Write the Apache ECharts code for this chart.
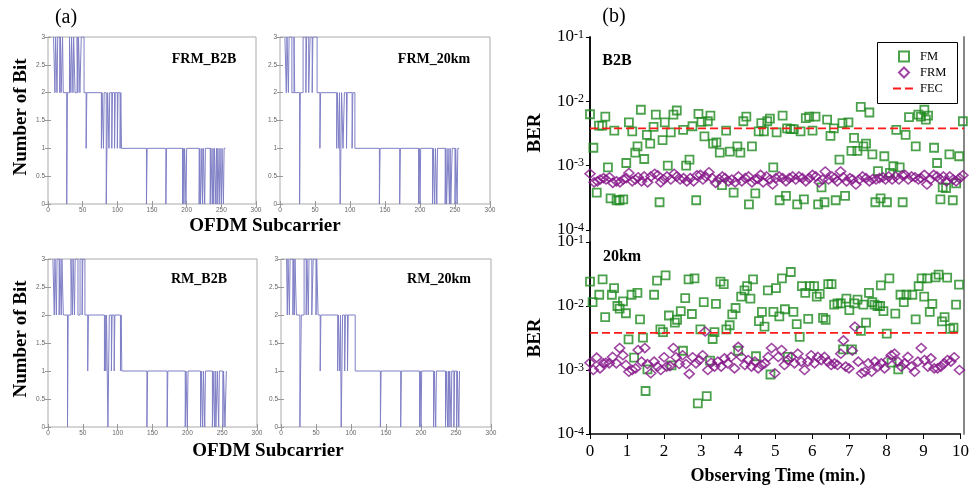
<!DOCTYPE html>
<html>
<head>
<meta charset="utf-8">
<script src="https://cdn.jsdelivr.net/npm/echarts@6/dist/echarts.min.js"></script>
<style>
  html, body { margin: 0; padding: 0; background: #fff; }
  #main { width: 972px; height: 488px; }
</style>
</head>
<body>
<div id="main"></div>
<script>
// (a) bit loading: [subcarrier, bits] at every change of the allocation
const frmB2B = [[8,3],[10,2],[11,3],[13,2],[14,3],[17,2],[18,3],[19,2],[21,3],[22,2],[27,0],[28,2],[31,3],[33,2],[34,3],[36,2],[37,3],[39,2],[42,3],[43,2],[44,3],[46,2],[48,3],[52,2],[55,1],[56,2],[77,1],[78,2],[80,1],[81,2],[84,0],[85,1],[86,2],[88,1],[89,2],[92,1],[93,2],[96,1],[97,2],[100,1],[101,2],[104,1],[105,2],[106,1],[142,0],[143,1],[170,0],[171,1],[194,0],[195,1],[196,0],[197,1],[199,0],[200,1],[218,0],[219,1],[220,0],[222,1],[223,0],[224,1],[226,0],[227,1],[234,0],[235,1],[237,0],[238,1],[239,0],[240,1],[242,0],[243,1],[244,0],[245,1],[247,0],[248,1],[250,0],[251,1],[253,0],[254,1],[256,1]];
const frm20km = [[7,3],[9,2],[10,3],[12,2],[13,3],[17,2],[20,3],[21,2],[28,0],[29,2],[33,3],[37,2],[38,3],[41,2],[43,3],[46,2],[47,3],[53,2],[57,1],[58,2],[81,1],[82,2],[84,1],[85,2],[86,0],[87,1],[88,2],[90,1],[92,2],[95,1],[96,2],[103,1],[104,2],[107,1],[142,0],[143,1],[171,0],[172,1],[198,0],[199,1],[200,0],[201,1],[218,0],[219,1],[221,0],[222,1],[224,0],[225,1],[236,0],[237,1],[238,0],[240,1],[242,0],[243,1],[244,0],[246,1],[250,0],[251,1],[253,0],[254,1],[256,1]];
const rmB2B = [[7,3],[9,2],[10,3],[12,2],[13,3],[16,2],[17,3],[19,2],[20,3],[22,2],[28,0],[29,2],[33,3],[35,2],[36,3],[38,2],[39,3],[43,2],[46,3],[49,2],[50,3],[53,2],[57,1],[58,2],[81,1],[82,2],[83,1],[84,2],[86,0],[87,1],[88,2],[91,1],[92,2],[95,1],[96,2],[104,1],[105,2],[106,1],[142,0],[143,1],[171,0],[172,1],[197,0],[198,1],[200,0],[201,1],[219,0],[220,1],[222,0],[223,1],[225,0],[226,1],[236,0],[237,1],[239,0],[240,1],[241,0],[243,1],[245,0],[246,1],[251,0],[252,1],[254,0],[256,1]];
const rm20km = [[8,3],[9,2],[10,3],[12,2],[13,3],[17,2],[18,3],[19,2],[20,3],[22,2],[27,0],[29,2],[33,3],[36,2],[37,3],[39,2],[40,3],[44,2],[46,3],[50,2],[51,3],[53,2],[56,1],[57,2],[81,1],[82,2],[84,1],[85,2],[86,0],[87,1],[88,2],[91,1],[92,2],[95,1],[96,2],[106,1],[142,0],[143,1],[171,0],[172,1],[198,0],[199,1],[200,0],[201,1],[218,0],[219,1],[221,0],[222,1],[235,0],[236,1],[238,0],[239,1],[240,0],[241,1],[243,0],[244,1],[247,0],[248,1],[251,0],[252,1],[254,0],[255,1],[256,1]];

// (b) BER vs observing time: [minutes, BER]
const fmB2B = [[0.00,6.3e-3],[0.09,1.9e-3],[0.18,3.8e-4],[0.24,4.2e-3],[0.33,4.2e-3],[0.41,5.8e-3],[0.48,9.4e-4],[0.55,3.1e-4],[0.65,3.5e-3],[0.71,2.9e-4],[0.79,2.9e-4],[0.89,3.0e-4],[0.97,1.1e-3],[1.04,4.7e-3],[1.13,3.4e-3],[1.21,1.6e-3],[1.27,2.0e-3],[1.36,7.4e-3],[1.45,1.27e-3],[1.52,3.0e-3],[1.61,2.2e-3],[1.70,4.0e-3],[1.76,6.2e-3],[1.86,2.7e-4],[1.94,2.5e-3],[2.00,4.7e-3],[2.08,1.0e-3],[2.16,3.3e-3],[2.23,6.2e-3],[2.32,7.2e-3],[2.49,3.6e-3],[2.57,1.0e-3],[2.66,1.24e-3],[2.74,4.1e-3],[2.84,2.9e-4],[2.90,6.4e-3],[2.98,4.8e-3],[3.06,2.85e-3],[3.15,4.9e-3],[3.22,6.0e-3],[3.29,2.2e-3],[3.38,2.3e-3],[3.47,1.6e-3],[3.53,5.0e-4],[3.64,3.5e-3],[3.74,1.65e-3],[3.84,3.8e-4],[3.94,2.0e-3],[4.02,1.6e-3],[4.10,4.9e-3],[4.18,5.8e-3],[4.25,2.5e-4],[4.33,2.0e-3],[4.42,3.7e-4],[4.51,3.4e-3],[4.58,4.6e-3],[4.65,3.4e-3],[4.74,4.9e-3],[4.81,5.4e-3],[4.90,9.4e-4],[4.99,3.3e-3],[5.07,2.9e-4],[5.15,6.0e-3],[5.24,3.4e-4],[5.27,3.8e-3],[5.36,3.7e-3],[5.45,3.7e-3],[5.54,2.5e-4],[5.63,3.4e-3],[5.72,3.0e-4],[5.77,5.5e-3],[5.86,5.8e-3],[5.95,3.5e-3],[6.03,5.8e-3],[6.10,2.5e-4],[6.19,4.6e-4],[6.27,2.7e-4],[6.34,5.2e-3],[6.43,2.9e-3],[6.52,3.8e-3],[6.57,2.9e-4],[6.67,1.24e-3],[6.75,4.6e-3],[6.82,3.4e-4],[6.91,4.7e-3],[6.99,1.7e-3],[7.06,2.7e-3],[7.15,1.7e-3],[7.24,8.2e-3],[7.31,2.0e-3],[7.38,2.2e-3],[7.47,6.7e-3],[7.55,1.5e-3],[7.63,2.7e-4],[7.70,8.2e-4],[7.77,3.1e-4],[7.87,1.4e-3],[7.94,2.7e-4],[8.02,7.7e-4],[8.11,9.8e-4],[8.19,3.6e-3],[8.28,9.4e-4],[8.36,2.7e-4],[8.44,3.0e-3],[8.53,5.7e-3],[8.71,2.0e-3],[8.78,6.2e-3],[8.85,5.8e-3],[8.94,7.4e-3],[8.98,5.2e-3],[9.04,6.0e-3],[9.20,1.9e-3],[9.28,1.1e-3],[9.37,3.0e-4],[9.43,4.6e-4],[9.52,4.5e-4],[9.61,1.5e-3],[9.70,2.9e-4],[9.79,5.3e-4],[9.87,1.4e-3],[9.97,4.9e-3]];
const frmB2BBer = [[0.00,7.5e-4],[0.11,5.5e-4],[0.20,5.7e-4],[0.27,6.1e-4],[0.36,6.4e-4],[0.43,6.1e-4],[0.52,6.6e-4],[0.61,5.4e-4],[0.71,5.7e-4],[0.80,5.5e-4],[0.89,6.1e-4],[0.97,6.4e-4],[1.04,7.7e-4],[1.13,5.7e-4],[1.21,6.1e-4],[1.29,6.6e-4],[1.38,5.7e-4],[1.45,6.8e-4],[1.54,5.5e-4],[1.63,6.8e-4],[1.73,7.5e-4],[1.81,7.1e-4],[1.89,5.5e-4],[1.97,6.1e-4],[2.06,6.8e-4],[2.16,6.1e-4],[2.25,7.5e-4],[2.32,6.8e-4],[2.41,6.1e-4],[2.50,6.4e-4],[2.59,5.7e-4],[2.68,6.4e-4],[2.77,5.7e-4],[2.86,7.1e-4],[2.95,7.2e-4],[3.02,6.1e-4],[3.09,6.8e-4],[3.18,7.9e-4],[3.27,6.4e-4],[3.36,5.4e-4],[3.45,6.2e-4],[3.54,6.8e-4],[3.61,6.4e-4],[3.70,5.7e-4],[3.79,6.1e-4],[3.88,5.5e-4],[3.97,6.8e-4],[4.06,5.7e-4],[4.15,6.4e-4],[4.24,6.8e-4],[4.33,5.5e-4],[4.41,6.1e-4],[4.49,6.2e-4],[4.56,7.2e-4],[4.63,5.5e-4],[4.72,6.8e-4],[4.81,6.1e-4],[4.88,5.1e-4],[4.97,6.4e-4],[5.06,6.8e-4],[5.15,6.4e-4],[5.24,5.7e-4],[5.33,6.4e-4],[5.42,6.8e-4],[5.50,6.1e-4],[5.59,6.8e-4],[5.68,6.4e-4],[5.77,5.7e-4],[5.86,6.4e-4],[5.95,7.2e-4],[6.04,6.8e-4],[6.13,5.5e-4],[6.22,6.1e-4],[6.29,8.1e-4],[6.38,6.1e-4],[6.47,6.8e-4],[6.54,6.4e-4],[6.61,5.7e-4],[6.70,8.1e-4],[6.77,6.6e-4],[6.86,5.7e-4],[6.95,6.4e-4],[7.02,6.1e-4],[7.11,5.1e-4],[7.20,6.1e-4],[7.29,6.8e-4],[7.38,6.4e-4],[7.47,5.7e-4],[7.56,6.2e-4],[7.65,6.1e-4],[7.74,6.4e-4],[7.83,6.6e-4],[7.90,6.1e-4],[7.99,6.8e-4],[8.08,6.1e-4],[8.17,6.8e-4],[8.26,6.1e-4],[8.35,7.1e-4],[8.42,7.2e-4],[8.51,6.1e-4],[8.60,6.8e-4],[8.69,6.6e-4],[8.78,6.1e-4],[8.85,6.4e-4],[8.94,7.2e-4],[9.01,5.1e-4],[9.10,6.1e-4],[9.19,7.2e-4],[9.28,6.8e-4],[9.37,6.1e-4],[9.45,6.8e-4],[9.53,5.7e-4],[9.62,6.8e-4],[9.71,6.1e-4],[9.79,5.7e-4],[9.88,6.4e-4],[9.97,7.1e-4]];
const fm20km = [[0.00,2.4e-2],[0.07,1.15e-2],[0.25,1.5e-2],[0.34,2.6e-2],[0.41,6.7e-3],[0.59,1.5e-2],[0.65,1.9e-2],[0.74,1.0e-2],[0.80,9.1e-3],[0.89,1.18e-2],[0.97,7.7e-3],[1.04,3.0e-3],[1.12,1.5e-2],[1.19,1.56e-3],[1.28,1.6e-2],[1.35,6.2e-3],[1.43,3.2e-3],[1.50,4.7e-4],[1.55,1.02e-3],[1.73,1.5e-2],[1.81,2.5e-2],[1.90,4.3e-3],[1.97,3.9e-3],[2.04,3.0e-2],[2.13,7.1e-3],[2.20,1.18e-3],[2.29,5.5e-3],[2.35,6.1e-3],[2.45,8.3e-3],[2.51,2.0e-3],[2.57,1.33e-2],[2.66,2.6e-2],[2.75,7.5e-3],[2.82,2.7e-2],[2.91,3.0e-4],[2.98,4.3e-3],[3.07,1.15e-2],[3.15,3.9e-4],[3.24,1.4e-3],[3.31,3.05e-3],[3.36,3.9e-3],[3.40,1.08e-2],[3.52,2.4e-2],[3.61,2.2e-2],[3.68,4.3e-3],[3.77,5.0e-3],[3.84,7.4e-3],[3.93,9.3e-3],[4.00,2.0e-3],[4.08,1.4e-2],[4.17,1.76e-2],[4.24,2.05e-2],[4.33,1.3e-2],[4.40,2.6e-2],[4.48,1.64e-3],[4.56,5.8e-3],[4.64,8.1e-3],[4.71,4.75e-3],[4.80,1.76e-2],[4.87,8.5e-4],[4.95,8.1e-3],[5.02,1.9e-2],[5.11,6.9e-3],[5.18,2.7e-2],[5.26,8.9e-3],[5.34,1.6e-3],[5.42,3.4e-2],[5.49,8.1e-3],[5.58,5.2e-3],[5.66,3.3e-3],[5.72,2.05e-2],[5.81,1.6e-2],[5.89,6.3e-3],[5.93,2.05e-2],[6.05,2.05e-2],[6.12,1.4e-2],[6.20,1.55e-2],[6.29,6.5e-3],[6.36,6.1e-3],[6.43,2.2e-2],[6.52,2.2e-2],[6.59,1.05e-2],[6.68,1.1e-2],[6.77,1.1e-2],[6.83,2.1e-3],[6.92,1.3e-2],[7.00,8.6e-3],[7.07,2.1e-3],[7.13,1.1e-2],[7.22,1.26e-2],[7.31,4.1e-3],[7.38,1.05e-2],[7.45,5.5e-3],[7.53,1.6e-2],[7.62,1.15e-2],[7.68,1.05e-2],[7.76,1.0e-2],[7.83,1.0e-2],[7.85,2.1e-2],[7.92,8.3e-3],[8.01,3.7e-3],[8.08,2.7e-2],[8.14,1.3e-3],[8.24,7.6e-3],[8.32,1.02e-3],[8.38,1.5e-2],[8.47,1.15e-2],[8.54,1.5e-2],[8.70,1.5e-2],[8.79,6.2e-3],[8.87,2.05e-2],[8.95,2.7e-2],[9.02,1.4e-2],[9.10,2.7e-2],[9.17,8.1e-3],[9.24,1.08e-2],[9.33,2.8e-2],[9.41,3.1e-2],[9.50,5.75e-3],[9.57,6.7e-3],[9.64,2.77e-2],[9.72,4.4e-3],[9.81,4.6e-3],[9.88,1.05e-2],[9.96,2.15e-2]];
const frm20kmBer = [[0.00,1.3e-3],[0.09,1.0e-3],[0.18,1.56e-3],[0.27,1.06e-3],[0.36,1.27e-3],[0.43,1.3e-3],[0.52,1.27e-3],[0.61,1.6e-3],[0.71,1.27e-3],[0.80,2.2e-3],[0.89,1.7e-3],[0.97,1.2e-3],[1.05,9.4e-4],[1.14,1.0e-3],[1.23,1.06e-3],[1.30,2.05e-3],[1.39,1.35e-3],[1.48,2.2e-3],[1.55,1.24e-3],[1.64,8.9e-4],[1.73,1.35e-3],[1.82,1.13e-3],[1.91,1.0e-3],[2.00,1.58e-3],[2.07,1.13e-3],[2.16,1.15e-3],[2.25,2.2e-3],[2.32,1.58e-3],[2.41,1.24e-3],[2.50,1.7e-3],[2.59,1.24e-3],[2.68,8.7e-4],[2.77,1.58e-3],[2.86,1.27e-3],[2.95,1.43e-3],[3.04,1.7e-3],[3.11,4.0e-3],[3.18,1.0e-3],[3.27,1.3e-3],[3.36,1.13e-3],[3.45,1.35e-3],[3.54,1.13e-3],[3.63,1.52e-3],[3.72,1.27e-3],[3.81,1.6e-3],[3.90,1.06e-3],[4.00,2.3e-3],[4.09,1.6e-3],[4.18,1.2e-3],[4.27,1.43e-3],[4.36,1.13e-3],[4.45,1.35e-3],[4.54,1.06e-3],[4.63,1.2e-3],[4.72,1.27e-3],[4.81,1.6e-3],[4.90,2.2e-3],[4.99,8.9e-4],[5.08,1.6e-3],[5.17,2.05e-3],[5.25,1.2e-3],[5.34,1.43e-3],[5.43,1.6e-3],[5.52,1.27e-3],[5.61,1.8e-3],[5.70,1.35e-3],[5.79,1.0e-3],[5.88,1.35e-3],[5.97,1.7e-3],[6.06,1.27e-3],[6.15,1.6e-3],[6.24,1.43e-3],[6.33,1.6e-3],[6.42,1.35e-3],[6.51,1.2e-3],[6.60,1.27e-3],[6.68,1.2e-3],[6.77,1.8e-3],[6.84,2.9e-3],[6.90,1.13e-3],[6.99,1.06e-3],[7.08,2.0e-3],[7.15,4.75e-3],[7.24,1.35e-3],[7.33,8.9e-4],[7.42,9.4e-4],[7.51,1.27e-3],[7.60,9.4e-4],[7.69,1.35e-3],[7.77,1.13e-3],[7.86,1.27e-3],[7.95,1.06e-3],[8.04,1.43e-3],[8.13,1.7e-3],[8.22,1.8e-3],[8.31,1.35e-3],[8.40,1.13e-3],[8.49,1.27e-3],[8.58,1.6e-3],[8.67,1.13e-3],[8.76,9.4e-4],[8.85,1.35e-3],[8.94,2.2e-3],[9.03,1.43e-3],[9.12,1.13e-3],[9.20,1.52e-3],[9.29,1.06e-3],[9.38,1.06e-3],[9.47,1.13e-3],[9.56,1.27e-3],[9.65,1.43e-3],[9.74,1.35e-3],[9.83,1.58e-3],[9.97,1.0e-3]];
const fecLimit = [[0, 3.8e-3], [10, 3.8e-3]];

const SERIF = '"Liberation Serif", "Times New Roman", serif';
const BIT_COLOR = '#7f7fc6';
const FM_COLOR = '#1f8a1f';
const FRM_COLOR = '#86168a';

const bitPanels = [
  { label: 'FRM_B2B', data: frmB2B, box: [48, 37, 208, 167], tag: [204, 59] },
  { label: 'FRM_20km', data: frm20km, box: [280, 37, 210, 167], tag: [434, 59] },
  { label: 'RM_B2B', data: rmB2B, box: [48, 259, 209, 168], tag: [199, 279] },
  { label: 'RM_20km', data: rm20km, box: [281, 259, 210, 168], tag: [439, 279] }
];

const grid = [], xAxis = [], yAxis = [], series = [], texts = [];

bitPanels.forEach((p, i) => {
  grid.push({ left: p.box[0], top: p.box[1], width: p.box[2], height: p.box[3],
    show: true, borderColor: '#aaa', borderWidth: 1 });
  const tick = { inside: true, length: 3, lineStyle: { color: '#999' } };
  xAxis.push({ gridIndex: i, type: 'value', min: 0, max: 300, interval: 50,
    axisLine: { show: false }, axisTick: tick, splitLine: { show: false },
    axisLabel: { fontSize: 6.5, color: '#666', margin: 3, fontFamily: 'Liberation Sans' } });
  xAxis.push({ gridIndex: i, type: 'value', min: 0, max: 300, interval: 50, position: 'top',
    axisLine: { show: false }, axisTick: tick, splitLine: { show: false }, axisLabel: { show: false } });
  yAxis.push({ gridIndex: i, type: 'value', min: 0, max: 3, interval: 0.5,
    axisLine: { show: false }, axisTick: tick, splitLine: { show: false },
    axisLabel: { fontSize: 6.5, color: '#666', margin: 3, fontFamily: 'Liberation Sans' } });
  yAxis.push({ gridIndex: i, type: 'value', min: 0, max: 3, interval: 0.5, position: 'right',
    axisLine: { show: false }, axisTick: tick, splitLine: { show: false }, axisLabel: { show: false } });
  series.push({ type: 'line', xAxisIndex: 2 * i, yAxisIndex: 2 * i, data: p.data,
    step: 'end', symbol: 'none', lineStyle: { color: BIT_COLOR, width: 1 } });
  texts.push({ type: 'text', x: p.tag[0], y: p.tag[1],
    style: { text: p.label, font: 'bold 14px ' + SERIF, fill: '#000', align: 'center', verticalAlign: 'middle' } });
});

// (b) panels
const berGrids = [[590, 37, 374, 193], [590, 242, 374, 192]];
const berData = [
  { fm: fmB2B, frm: frmB2BBer, tag: 'B2B', tagPos: [617, 61] },
  { fm: fm20km, frm: frm20kmBer, tag: '20km', tagPos: [622, 257] }
];
berGrids.forEach((b, k) => {
  const gi = 4 + k;
  grid.push({ left: b[0], top: b[1], width: b[2], height: b[3] });
  xAxis.push({ gridIndex: gi, type: 'value', min: 0, max: 10, interval: 1, show: k === 1,
    axisLine: { lineStyle: { color: '#000', width: 1.5 } },
    axisTick: { length: 5, lineStyle: { color: '#000' } },
    splitLine: { show: false },
    axisLabel: { fontSize: 17, color: '#000', fontFamily: SERIF, margin: 9 } });
  yAxis.push({ gridIndex: gi, type: 'log', logBase: 10, min: 1e-4, max: 1e-1,
    axisLine: { show: true, lineStyle: { color: '#000', width: 1.5 } },
    axisTick: { show: true, length: 4, lineStyle: { color: '#000' } },
    splitLine: { show: false },
    axisLabel: {
      margin: 6,
      formatter: v => '{b|10}{s|' + Math.round(Math.log10(v)) + '}',
      rich: {
        b: { fontSize: 17, fontFamily: SERIF, color: '#000' },
        s: { fontSize: 12, fontFamily: SERIF, color: '#000', verticalAlign: 'top' }
      }
    } });
  const xi = 8 + k, yi = 8 + k;
  const d = berData[k];
  series.push({ name: 'FM', type: 'scatter', xAxisIndex: xi, yAxisIndex: yi, data: d.fm,
    symbol: 'rect', symbolSize: 8,
    itemStyle: { color: 'rgba(255,255,255,0)', borderColor: FM_COLOR, borderWidth: 1.8 } });
  series.push({ name: 'FRM', type: 'scatter', xAxisIndex: xi, yAxisIndex: yi, data: d.frm,
    symbol: 'diamond', symbolSize: [10, 9],
    itemStyle: { color: 'rgba(255,255,255,0)', borderColor: FRM_COLOR, borderWidth: 1.6 } });
  series.push({ name: 'FEC', type: 'line', xAxisIndex: xi, yAxisIndex: yi, data: fecLimit,
    symbol: 'none', itemStyle: { color: 'rgba(0,0,0,0)', borderWidth: 0 },
    lineStyle: { color: '#ff1a1a', width: 1.6, type: [8, 4] } });
  texts.push({ type: 'text', x: d.tagPos[0], y: d.tagPos[1],
    style: { text: d.tag, font: 'bold 16px ' + SERIF, fill: '#000', align: 'center', verticalAlign: 'middle' } });
});

// frame of (b): one continuous left line and grey right edge over both panels
grid.push({ left: 590, top: 37, width: 374, height: 397 });
xAxis.push({ gridIndex: 6, type: 'value', min: 0, max: 10, show: false });
yAxis.push({ gridIndex: 6, type: 'value', min: 0, max: 1,
  axisLine: { show: true, lineStyle: { color: '#000', width: 1.5 } },
  axisTick: { show: false }, axisLabel: { show: false }, splitLine: { show: false } });
yAxis.push({ gridIndex: 6, type: 'value', min: 0, max: 1, position: 'right',
  axisLine: { show: true, lineStyle: { color: '#888', width: 2 } },
  axisTick: { show: false }, axisLabel: { show: false }, splitLine: { show: false } });

// axis titles, panel letters, legend frame
const labelFont = 'bold 19px ' + SERIF;
const centred = { fill: '#000', align: 'center', verticalAlign: 'middle' };
texts.push(
  { type: 'rect', shape: { x: 877.5, y: 42.5, width: 80, height: 61 }, style: { fill: '#fff', stroke: '#000', lineWidth: 1 }, z: -1 },
  { type: 'text', x: 66, y: 18, style: Object.assign({ text: '(a)', font: '20px ' + SERIF }, centred) },
  { type: 'text', x: 614, y: 17, style: Object.assign({ text: '(b)', font: '20px ' + SERIF }, centred) },
  { type: 'text', x: 21, y: 117, rotation: Math.PI / 2, style: Object.assign({ text: 'Number of Bit', font: labelFont }, centred) },
  { type: 'text', x: 21, y: 339, rotation: Math.PI / 2, style: Object.assign({ text: 'Number of Bit', font: labelFont }, centred) },
  { type: 'text', x: 265, y: 226, style: Object.assign({ text: 'OFDM Subcarrier', font: labelFont }, centred) },
  { type: 'text', x: 268, y: 451, style: Object.assign({ text: 'OFDM Subcarrier', font: labelFont }, centred) },
  { type: 'text', x: 535, y: 133, rotation: Math.PI / 2, style: Object.assign({ text: 'BER', font: labelFont }, centred) },
  { type: 'text', x: 535, y: 338, rotation: Math.PI / 2, style: Object.assign({ text: 'BER', font: labelFont }, centred) },
  { type: 'text', x: 778, y: 476, style: Object.assign({ text: 'Observing Time (min.)', font: 'bold 18px ' + SERIF }, centred) }
);

const legendText = { fontSize: 12.5, fontFamily: SERIF, color: '#000' };
const chart = echarts.init(document.getElementById('main'), null, { renderer: 'canvas' });
chart.setOption({
  animation: false,
  backgroundColor: '#fff',
  grid, xAxis, yAxis, series,
  legend: [
    { data: ['FM', 'FRM'], orient: 'vertical', left: 898, top: 50, padding: 0,
      itemWidth: 10, itemHeight: 10, itemGap: 3, symbolKeepAspect: true,
      textStyle: Object.assign({ padding: [0, 0, 0, 6] }, legendText) },
    { data: ['FEC'], orient: 'vertical', left: 892, top: 82, padding: 0,
      itemWidth: 22, itemHeight: 12, textStyle: legendText }
  ],
  graphic: texts
});
</script>
</body>
</html>
